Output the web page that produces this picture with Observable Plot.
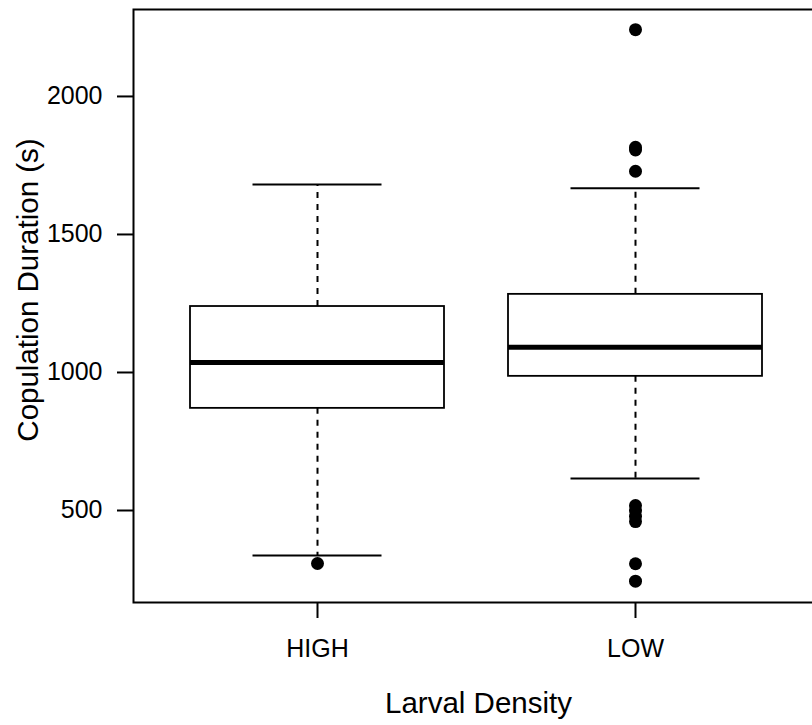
<!DOCTYPE html>
<html>
<head>
<meta charset="utf-8">
<script src="https://cdn.jsdelivr.net/npm/d3@7"></script>
<script src="https://cdn.jsdelivr.net/npm/@observablehq/plot@0.6"></script>
<style>
  html, body { margin: 0; padding: 0; background: white; overflow: hidden; }
</style>
</head>
<body>
<div id="chart"></div>
<script>
const categories = ["HIGH", "LOW"];
const lowerWhisker = [337, 616];
const q1 = [870, 986];
const median = [1036, 1091];
const q3 = [1239, 1283];
const upperWhisker = [1681, 1667];

const outlierGroup = ["HIGH", "LOW", "LOW", "LOW", "LOW", "LOW", "LOW", "LOW", "LOW", "LOW", "LOW"];
const outlierValue = [308, 2242, 1816, 1806, 1729, 518, 499, 479, 460, 307, 244];

const yTicks = [500, 1000, 1500, 2000];
const xTitle = "Larval Density";
const yTitle = "Copulation Duration (s)";

const boxes = categories.map((c, i) => ({
  group: c, lo: lowerWhisker[i], q1: q1[i], med: median[i], q3: q3[i], hi: upperWhisker[i]
}));
const outliers = outlierValue.map((v, i) => ({group: outlierGroup[i], value: v}));

const chart = Plot.plot({
  width: 812,
  height: 725,
  marginLeft: 133,
  marginRight: -8,
  marginTop: 9,
  marginBottom: 123,
  style: {fontFamily: "'Liberation Sans', Arial, sans-serif", fontSize: "25px", color: "black", background: "white", overflow: "hidden"},
  x: {type: "band", domain: categories, paddingInner: 0.2, paddingOuter: 0.18, label: null},
  y: {domain: [166.7, 2315], label: null},
  marks: [
    Plot.frame({stroke: "black", strokeWidth: 2}),
    Plot.ruleX(boxes, {x: "group", y1: "q3", y2: "hi", stroke: "black", strokeWidth: 2, strokeDasharray: "6,6"}),
    Plot.ruleX(boxes, {x: "group", y1: "q1", y2: "lo", stroke: "black", strokeWidth: 2, strokeDasharray: "6,6"}),
    Plot.tickY(boxes, {x: "group", y: "hi", stroke: "black", strokeWidth: 2, inset: 62.5}),
    Plot.tickY(boxes, {x: "group", y: "lo", stroke: "black", strokeWidth: 2, inset: 62.5}),
    Plot.barY(boxes, {x: "group", y1: "q1", y2: "q3", fill: "white", stroke: "black", strokeWidth: 1.8}),
    Plot.tickY(boxes, {x: "group", y: "med", stroke: "black", strokeWidth: 5}),
    Plot.dot(outliers, {x: "group", y: "value", r: 6.5, fill: "black", stroke: "none"}),
    Plot.axisY(yTicks, {tickSize: 16, tickPadding: 15, tickFormat: d => String(d), fontSize: 25, strokeWidth: 2}),
    Plot.axisX({tickSize: 16, tickPadding: 21, fontSize: 25, strokeWidth: 2}),
    Plot.text([yTitle], {frameAnchor: "left", textAnchor: "middle", text: d => d, rotate: -90, dx: -105, dy: -16, fontSize: 29.5, fill: "black"}),
    Plot.text([xTitle], {frameAnchor: "bottom", textAnchor: "middle", text: d => d, dx: 1.5, dy: 110, fontSize: 29.5, fill: "black"})
  ]
});
document.getElementById("chart").appendChild(chart);
</script>
</body>
</html>
